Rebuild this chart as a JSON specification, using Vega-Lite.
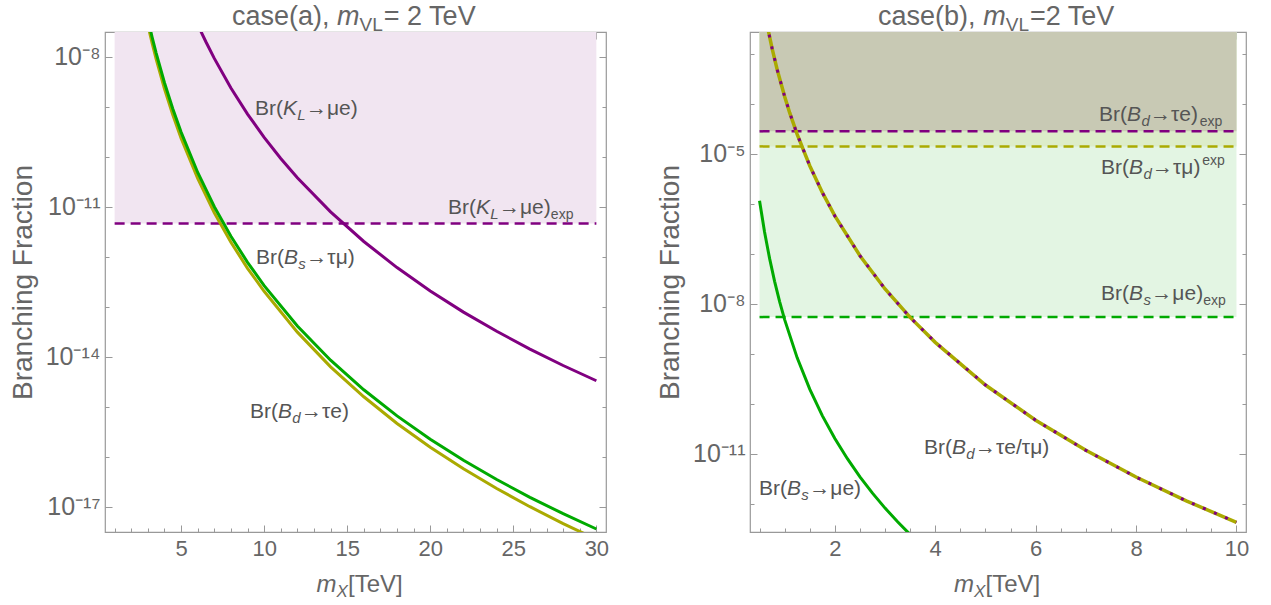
{
 "$schema": "https://vega.github.io/schema/vega-lite/v6.json",
 "padding": {"left": 8, "top": 2, "right": 5, "bottom": 5},
 "autosize": {"type": "pad"},
 "background": "white",
 "config": {"view": {"stroke": "#999", "strokeWidth": 1.2}, "font": "Liberation Sans"},
 "datasets": {
  "bandsA": [{"x1": 1, "x2": 30, "lo": 4.7e-12, "hi": 3.162e-8}],
  "rulesA": [{"x1": 1, "x2": 30, "v": 4.7e-12}],
  "curvesA": [
   {"s": "KL", "x": 6, "y": 4.508e-8}, {"s": "KL", "x": 6.25, "y": 2.979e-8}, {"s": "KL", "x": 6.5, "y": 1.995e-8}, {"s": "KL", "x": 7, "y": 9.376e-9}, {"s": "KL", "x": 8, "y": 2.399e-9}, {"s": "KL", "x": 9, "y": 7.228e-10}, {"s": "KL", "x": 10, "y": 2.466e-10}, {"s": "KL", "x": 11, "y": 9.333e-11}, {"s": "KL", "x": 12, "y": 3.837e-11}, {"s": "KL", "x": 14, "y": 7.98e-12}, {"s": "KL", "x": 16, "y": 2.042e-12}, {"s": "KL", "x": 18, "y": 6.138e-13}, {"s": "KL", "x": 20, "y": 2.099e-13}, {"s": "KL", "x": 22, "y": 7.907e-14}, {"s": "KL", "x": 24, "y": 3.266e-14}, {"s": "KL", "x": 26, "y": 1.442e-14}, {"s": "KL", "x": 28, "y": 6.761e-15}, {"s": "KL", "x": 30, "y": 3.35e-15},
   {"s": "Bs", "x": 3, "y": 5.754e-8}, {"s": "Bs", "x": 3.25, "y": 2.541e-8}, {"s": "Bs", "x": 3.5, "y": 1.197e-8}, {"s": "Bs", "x": 4, "y": 3.062e-9}, {"s": "Bs", "x": 4.5, "y": 9.2e-10}, {"s": "Bs", "x": 5, "y": 3.148e-10}, {"s": "Bs", "x": 6, "y": 4.898e-11}, {"s": "Bs", "x": 7, "y": 1.014e-11}, {"s": "Bs", "x": 8, "y": 2.6e-12}, {"s": "Bs", "x": 9, "y": 7.834e-13}, {"s": "Bs", "x": 10, "y": 2.673e-13}, {"s": "Bs", "x": 12, "y": 4.159e-14}, {"s": "Bs", "x": 14, "y": 8.63e-15}, {"s": "Bs", "x": 16, "y": 2.213e-15}, {"s": "Bs", "x": 18, "y": 6.637e-16}, {"s": "Bs", "x": 20, "y": 2.27e-16}, {"s": "Bs", "x": 22, "y": 8.59e-17}, {"s": "Bs", "x": 24, "y": 3.54e-17}, {"s": "Bs", "x": 26, "y": 1.563e-17}, {"s": "Bs", "x": 28, "y": 7.345e-18}, {"s": "Bs", "x": 30, "y": 3.631e-18},
   {"s": "Bd", "x": 3, "y": 4.365e-8}, {"s": "Bd", "x": 3.25, "y": 1.928e-8}, {"s": "Bd", "x": 3.5, "y": 9.08e-9}, {"s": "Bd", "x": 4, "y": 2.323e-9}, {"s": "Bd", "x": 4.5, "y": 6.98e-10}, {"s": "Bd", "x": 5, "y": 2.388e-10}, {"s": "Bd", "x": 6, "y": 3.716e-11}, {"s": "Bd", "x": 7, "y": 7.69e-12}, {"s": "Bd", "x": 8, "y": 1.972e-12}, {"s": "Bd", "x": 9, "y": 5.943e-13}, {"s": "Bd", "x": 10, "y": 2.061e-13}, {"s": "Bd", "x": 12, "y": 3.141e-14}, {"s": "Bd", "x": 14, "y": 6.368e-15}, {"s": "Bd", "x": 16, "y": 1.6e-15}, {"s": "Bd", "x": 18, "y": 4.688e-16}, {"s": "Bd", "x": 20, "y": 1.57e-16}, {"s": "Bd", "x": 22, "y": 5.821e-17}, {"s": "Bd", "x": 24, "y": 2.344e-17}, {"s": "Bd", "x": 26, "y": 1.014e-17}, {"s": "Bd", "x": 28, "y": 4.656e-18}, {"s": "Bd", "x": 30, "y": 2.254e-18}
  ],
  "textA": [
   {"x": 9.45, "y": 6.92e-10, "t": "Br(", "part": "lab"}, {"x": 11.136, "y": 6.92e-10, "t": "K", "part": "labI"}, {"x": 11.997, "y": 6.92e-10, "t": "L", "part": "labSubI"}, {"x": 12.52, "y": 6.92e-10, "t": "→μe)", "part": "lab"},
   {"x": 21.07, "y": 7.24e-12, "t": "Br(", "part": "lab"}, {"x": 22.756, "y": 7.24e-12, "t": "K", "part": "labI"}, {"x": 23.617, "y": 7.24e-12, "t": "L", "part": "labSubI"}, {"x": 24.14, "y": 7.24e-12, "t": "→μe)", "part": "lab"}, {"x": 27.26, "y": 7.24e-12, "t": "exp", "part": "labSub"},
   {"x": 9.51, "y": 7.24e-13, "t": "Br(", "part": "lab"}, {"x": 11.196, "y": 7.24e-13, "t": "B", "part": "labI"}, {"x": 12.057, "y": 7.24e-13, "t": "s", "part": "labSubI"}, {"x": 12.54, "y": 7.24e-13, "t": "→τμ)", "part": "lab"},
   {"x": 9.15, "y": 6.03e-16, "t": "Br(", "part": "lab"}, {"x": 10.836, "y": 6.03e-16, "t": "B", "part": "labI"}, {"x": 11.697, "y": 6.03e-16, "t": "d", "part": "labSubI"}, {"x": 12.22, "y": 6.03e-16, "t": "→τe)", "part": "lab"},
   {"x": 8.07, "y": 4.37e-8, "t": "case(a), ", "part": "tit"}, {"x": 14.39, "y": 4.37e-8, "t": "m", "part": "titI"}, {"x": 15.745, "y": 4.37e-8, "t": "VL", "part": "titSub"}, {"x": 17.205, "y": 4.37e-8, "t": "= 2 TeV", "part": "tit"},
   {"x": 13.154, "y": 2.0e-19, "t": "m", "part": "axI"}, {"x": 14.358, "y": 2.0e-19, "t": "X", "part": "axSubI"}, {"x": 15.05, "y": 2.0e-19, "t": "[TeV]", "part": "ax"}
  ],
  "bandsB": [
   {"s": "Bsmue", "x1": 0.5, "x2": 10, "lo": 5.4e-9, "hi": 2.716e-3},
   {"s": "Bdtaumu", "x1": 0.5, "x2": 10, "lo": 1.4e-5, "hi": 2.716e-3},
   {"s": "Bdtaue", "x1": 0.5, "x2": 10, "lo": 2.8e-5, "hi": 2.716e-3}
  ],
  "rulesB": [
   {"s": "Bsmue", "x1": 0.5, "x2": 10, "v": 5.4e-9},
   {"s": "Bdtaumu", "x1": 0.5, "x2": 10, "v": 1.4e-5},
   {"s": "Bdtaue", "x1": 0.5, "x2": 10, "v": 2.8e-5}
  ],
  "curvesB": [
   {"s": "Bsmue", "x": 0.5, "y": 1.148e-6}, {"s": "Bsmue", "x": 0.6, "y": 2.716e-7}, {"s": "Bsmue", "x": 0.7, "y": 8.054e-8}, {"s": "Bsmue", "x": 0.8, "y": 2.805e-8}, {"s": "Bsmue", "x": 0.9, "y": 1.104e-8}, {"s": "Bsmue", "x": 1.0, "y": 4.808e-9}, {"s": "Bsmue", "x": 1.25, "y": 8.26e-10}, {"s": "Bsmue", "x": 1.5, "y": 1.954e-10}, {"s": "Bsmue", "x": 1.75, "y": 5.781e-11}, {"s": "Bsmue", "x": 2.0, "y": 2.014e-11}, {"s": "Bsmue", "x": 2.25, "y": 7.943e-12}, {"s": "Bsmue", "x": 2.5, "y": 3.451e-12}, {"s": "Bsmue", "x": 2.75, "y": 1.626e-12}, {"s": "Bsmue", "x": 3.0, "y": 8.166e-13}, {"s": "Bsmue", "x": 3.25, "y": 4.345e-13}, {"s": "Bsmue", "x": 3.5, "y": 2.421e-13},
   {"s": "Bd", "x": 0.6, "y": 7.129e-3}, {"s": "Bd", "x": 0.68, "y": 2.716e-3}, {"s": "Bd", "x": 0.75, "y": 1.276e-3}, {"s": "Bd", "x": 0.85, "y": 4.864e-4}, {"s": "Bd", "x": 1.0, "y": 1.393e-4}, {"s": "Bd", "x": 1.1, "y": 6.62e-5}, {"s": "Bd", "x": 1.25, "y": 2.443e-5}, {"s": "Bd", "x": 1.5, "y": 5.754e-6}, {"s": "Bd", "x": 1.75, "y": 1.679e-6}, {"s": "Bd", "x": 2.0, "y": 5.689e-7}, {"s": "Bd", "x": 2.5, "y": 9.12e-8}, {"s": "Bd", "x": 3.0, "y": 1.972e-8}, {"s": "Bd", "x": 3.5, "y": 5.321e-9}, {"s": "Bd", "x": 4.0, "y": 1.687e-9}, {"s": "Bd", "x": 5.0, "y": 2.366e-10}, {"s": "Bd", "x": 6.0, "y": 4.667e-11}, {"s": "Bd", "x": 7.0, "y": 1.167e-11}, {"s": "Bd", "x": 8.0, "y": 3.412e-12}, {"s": "Bd", "x": 9.0, "y": 1.14e-12}, {"s": "Bd", "x": 10.0, "y": 4.236e-13}
  ],
  "textB": [
   {"x": 7.263, "y": 4.51e-5, "t": "Br(", "part": "lab"}, {"x": 7.821, "y": 4.51e-5, "t": "B", "part": "labI"}, {"x": 8.106, "y": 4.51e-5, "t": "d", "part": "labSubI"}, {"x": 8.279, "y": 4.51e-5, "t": "→τe)", "part": "lab"}, {"x": 9.269, "y": 4.51e-5, "t": "exp", "part": "labSub"},
   {"x": 7.303, "y": 3.93e-6, "t": "Br(", "part": "lab"}, {"x": 7.861, "y": 3.93e-6, "t": "B", "part": "labI"}, {"x": 8.146, "y": 3.93e-6, "t": "d", "part": "labSubI"}, {"x": 8.319, "y": 3.93e-6, "t": "→τμ)", "part": "lab"}, {"x": 9.317, "y": 3.93e-6, "t": "exp", "part": "labSup"},
   {"x": 7.303, "y": 1.186e-8, "t": "Br(", "part": "lab"}, {"x": 7.861, "y": 1.186e-8, "t": "B", "part": "labI"}, {"x": 8.146, "y": 1.186e-8, "t": "s", "part": "labSubI"}, {"x": 8.305, "y": 1.186e-8, "t": "→μe)", "part": "lab"}, {"x": 9.337, "y": 1.186e-8, "t": "exp", "part": "labSub"},
   {"x": 3.777, "y": 9.86e-12, "t": "Br(", "part": "lab"}, {"x": 4.335, "y": 9.86e-12, "t": "B", "part": "labI"}, {"x": 4.62, "y": 9.86e-12, "t": "d", "part": "labSubI"}, {"x": 4.793, "y": 9.86e-12, "t": "→τe/τμ)", "part": "lab"},
   {"x": 0.49, "y": 1.493e-12, "t": "Br(", "part": "lab"}, {"x": 1.048, "y": 1.493e-12, "t": "B", "part": "labI"}, {"x": 1.333, "y": 1.493e-12, "t": "s", "part": "labSubI"}, {"x": 1.492, "y": 1.493e-12, "t": "→μe)", "part": "lab"},
   {"x": 2.86, "y": 3.75e-3, "t": "case(b), ", "part": "tit"}, {"x": 4.956, "y": 3.75e-3, "t": "m", "part": "titI"}, {"x": 5.404, "y": 3.75e-3, "t": "VL", "part": "titSub"}, {"x": 5.888, "y": 3.75e-3, "t": "=2 TeV", "part": "tit"},
   {"x": 4.375, "y": 1.714e-14, "t": "m", "part": "axI"}, {"x": 4.773, "y": 1.714e-14, "t": "X", "part": "axSubI"}, {"x": 5.003, "y": 1.714e-14, "t": "[TeV]", "part": "ax"}
  ]
 },
 "spacing": 45,
 "hconcat": [
  {
   "width": 501, "height": 500,
   "resolve": {"axis": {"x": "independent", "y": "independent"}},
   "layer": [
    {"data": {"name": "bandsA"}, "mark": {"type": "rect", "color": "#f1e5f1"},
     "encoding": {
      "x": {"field": "x1", "type": "quantitative", "scale": {"domain": [0.42, 30.58], "nice": false, "zero": false},
            "axis": {"orient": "bottom", "values": [1,2,3,4,5,6,7,8,9,10,11,12,13,14,15,16,17,18,19,20,21,22,23,24,25,26,27,28,29,30], "labelExpr": "datum.value % 5 === 0 ? format(datum.value, 'd') : ''", "tickSize": {"condition": {"test": "datum.value % 5 === 0", "value": -7}, "value": -4}, "tickColor": "#999", "labelPadding": 13, "labelFontSize": 22, "labelColor": "#666", "labelFont": "Liberation Sans", "labelFlush": false, "labelOverlap": false, "grid": false, "domain": false, "title": null}},
      "x2": {"field": "x2"},
      "y": {"field": "lo", "type": "quantitative", "scale": {"type": "log", "domain": [3.162e-18, 3.162e-8], "nice": false},
            "axis": {"orient": "left", "values": [1e-17,1e-16,1e-15,1e-14,1e-13,1e-12,1e-11,1e-10,1e-9,1e-8], "labelExpr": "datum.value == 1e-8 ? '10⁻⁸' : datum.value == 1e-11 ? '10⁻¹¹' : datum.value == 1e-14 ? '10⁻¹⁴' : datum.value == 1e-17 ? '10⁻¹⁷' : ''", "tickSize": {"condition": {"test": "abs(round(log(datum.value)/LN10)) % 3 === 2", "value": -7}, "value": -4}, "tickColor": "#999", "labelPadding": 12, "labelFontSize": 25, "labelColor": "#666", "labelFont": "Liberation Sans", "labelOverlap": false, "labelFlush": false, "grid": false, "domain": false, "title": "Branching Fraction", "titleFontSize": 28, "titleFont": "Liberation Sans", "titleFontWeight": "normal", "titleColor": "#666", "titlePadding": 8}},
      "y2": {"field": "hi"}
     }},
    {"data": {"name": "rulesA"}, "mark": {"type": "rule", "color": "#800080", "strokeWidth": 2.5, "strokeDash": [10, 6]},
     "encoding": {
      "x": {"field": "x1", "type": "quantitative", "scale": {"domain": [0.42, 30.58], "nice": false, "zero": false},
            "axis": {"orient": "top", "values": [1,2,3,4,5,6,7,8,9,10,11,12,13,14,15,16,17,18,19,20,21,22,23,24,25,26,27,28,29,30], "labels": false, "tickSize": {"condition": {"test": "datum.value % 5 === 0", "value": -7}, "value": -4}, "tickColor": "#999", "grid": false, "domain": false, "title": null}},
      "x2": {"field": "x2"},
      "y": {"field": "v", "type": "quantitative", "scale": {"type": "log", "domain": [3.162e-18, 3.162e-8], "nice": false},
            "axis": {"orient": "right", "values": [1e-17,1e-16,1e-15,1e-14,1e-13,1e-12,1e-11,1e-10,1e-9,1e-8], "labels": false, "tickSize": {"condition": {"test": "abs(round(log(datum.value)/LN10)) % 3 === 2", "value": -7}, "value": -4}, "tickColor": "#999", "grid": false, "domain": false, "title": null}}
     }},
    {"data": {"name": "curvesA"}, "transform": [{"filter": "datum.s === 'KL'"}], "mark": {"type": "line", "color": "#800080", "strokeWidth": 3, "clip": true},
     "encoding": {"x": {"field": "x", "type": "quantitative", "scale": {"domain": [0.42, 30.58], "nice": false, "zero": false}, "axis": null}, "y": {"field": "y", "type": "quantitative", "scale": {"type": "log", "domain": [3.162e-18, 3.162e-8], "nice": false}, "axis": null}}},
    {"data": {"name": "curvesA"}, "transform": [{"filter": "datum.s === 'Bd'"}], "mark": {"type": "line", "color": "#aaaa00", "strokeWidth": 3, "clip": true},
     "encoding": {"x": {"field": "x", "type": "quantitative", "scale": {"domain": [0.42, 30.58], "nice": false, "zero": false}, "axis": null}, "y": {"field": "y", "type": "quantitative", "scale": {"type": "log", "domain": [3.162e-18, 3.162e-8], "nice": false}, "axis": null}}},
    {"data": {"name": "curvesA"}, "transform": [{"filter": "datum.s === 'Bs'"}], "mark": {"type": "line", "color": "#00aa00", "strokeWidth": 3, "clip": true},
     "encoding": {"x": {"field": "x", "type": "quantitative", "scale": {"domain": [0.42, 30.58], "nice": false, "zero": false}, "axis": null}, "y": {"field": "y", "type": "quantitative", "scale": {"type": "log", "domain": [3.162e-18, 3.162e-8], "nice": false}, "axis": null}}},
    {"data": {"name": "textA"}, "transform": [{"filter": "datum.part === 'lab'"}], "mark": {"type": "text", "align": "left", "baseline": "alphabetic", "font": "Liberation Sans", "fontSize": 21, "color": "#555"},
     "encoding": {"x": {"field": "x", "type": "quantitative", "scale": {"domain": [0.42, 30.58], "nice": false, "zero": false}, "axis": null}, "y": {"field": "y", "type": "quantitative", "scale": {"type": "log", "domain": [3.162e-18, 3.162e-8], "nice": false}, "axis": null}, "text": {"field": "t"}}},
    {"data": {"name": "textA"}, "transform": [{"filter": "datum.part === 'labI'"}], "mark": {"type": "text", "align": "left", "baseline": "alphabetic", "font": "Liberation Sans", "fontSize": 21, "fontStyle": "italic", "color": "#555"},
     "encoding": {"x": {"field": "x", "type": "quantitative", "scale": {"domain": [0.42, 30.58], "nice": false, "zero": false}, "axis": null}, "y": {"field": "y", "type": "quantitative", "scale": {"type": "log", "domain": [3.162e-18, 3.162e-8], "nice": false}, "axis": null}, "text": {"field": "t"}}},
    {"data": {"name": "textA"}, "transform": [{"filter": "datum.part === 'labSubI'"}], "mark": {"type": "text", "align": "left", "baseline": "alphabetic", "font": "Liberation Sans", "fontSize": 15, "fontStyle": "italic", "dy": 5, "color": "#555"},
     "encoding": {"x": {"field": "x", "type": "quantitative", "scale": {"domain": [0.42, 30.58], "nice": false, "zero": false}, "axis": null}, "y": {"field": "y", "type": "quantitative", "scale": {"type": "log", "domain": [3.162e-18, 3.162e-8], "nice": false}, "axis": null}, "text": {"field": "t"}}},
    {"data": {"name": "textA"}, "transform": [{"filter": "datum.part === 'labSub'"}], "mark": {"type": "text", "align": "left", "baseline": "alphabetic", "font": "Liberation Sans", "fontSize": 14, "dy": 5, "color": "#555"},
     "encoding": {"x": {"field": "x", "type": "quantitative", "scale": {"domain": [0.42, 30.58], "nice": false, "zero": false}, "axis": null}, "y": {"field": "y", "type": "quantitative", "scale": {"type": "log", "domain": [3.162e-18, 3.162e-8], "nice": false}, "axis": null}, "text": {"field": "t"}}},
    {"data": {"name": "textA"}, "transform": [{"filter": "datum.part === 'tit'"}], "mark": {"type": "text", "align": "left", "baseline": "alphabetic", "font": "Liberation Sans", "fontSize": 27, "color": "#666"},
     "encoding": {"x": {"field": "x", "type": "quantitative", "scale": {"domain": [0.42, 30.58], "nice": false, "zero": false}, "axis": null}, "y": {"field": "y", "type": "quantitative", "scale": {"type": "log", "domain": [3.162e-18, 3.162e-8], "nice": false}, "axis": null}, "text": {"field": "t"}}},
    {"data": {"name": "textA"}, "transform": [{"filter": "datum.part === 'titI'"}], "mark": {"type": "text", "align": "left", "baseline": "alphabetic", "font": "Liberation Sans", "fontSize": 27, "fontStyle": "italic", "color": "#666"},
     "encoding": {"x": {"field": "x", "type": "quantitative", "scale": {"domain": [0.42, 30.58], "nice": false, "zero": false}, "axis": null}, "y": {"field": "y", "type": "quantitative", "scale": {"type": "log", "domain": [3.162e-18, 3.162e-8], "nice": false}, "axis": null}, "text": {"field": "t"}}},
    {"data": {"name": "textA"}, "transform": [{"filter": "datum.part === 'titSub'"}], "mark": {"type": "text", "align": "left", "baseline": "alphabetic", "font": "Liberation Sans", "fontSize": 19, "dy": 6, "color": "#666"},
     "encoding": {"x": {"field": "x", "type": "quantitative", "scale": {"domain": [0.42, 30.58], "nice": false, "zero": false}, "axis": null}, "y": {"field": "y", "type": "quantitative", "scale": {"type": "log", "domain": [3.162e-18, 3.162e-8], "nice": false}, "axis": null}, "text": {"field": "t"}}},
    {"data": {"name": "textA"}, "transform": [{"filter": "datum.part === 'ax'"}], "mark": {"type": "text", "align": "left", "baseline": "alphabetic", "font": "Liberation Sans", "fontSize": 24, "color": "#666"},
     "encoding": {"x": {"field": "x", "type": "quantitative", "scale": {"domain": [0.42, 30.58], "nice": false, "zero": false}, "axis": null}, "y": {"field": "y", "type": "quantitative", "scale": {"type": "log", "domain": [3.162e-18, 3.162e-8], "nice": false}, "axis": null}, "text": {"field": "t"}}},
    {"data": {"name": "textA"}, "transform": [{"filter": "datum.part === 'axI'"}], "mark": {"type": "text", "align": "left", "baseline": "alphabetic", "font": "Liberation Sans", "fontSize": 24, "fontStyle": "italic", "color": "#666"},
     "encoding": {"x": {"field": "x", "type": "quantitative", "scale": {"domain": [0.42, 30.58], "nice": false, "zero": false}, "axis": null}, "y": {"field": "y", "type": "quantitative", "scale": {"type": "log", "domain": [3.162e-18, 3.162e-8], "nice": false}, "axis": null}, "text": {"field": "t"}}},
    {"data": {"name": "textA"}, "transform": [{"filter": "datum.part === 'axSubI'"}], "mark": {"type": "text", "align": "left", "baseline": "alphabetic", "font": "Liberation Sans", "fontSize": 17, "fontStyle": "italic", "dy": 5, "color": "#666"},
     "encoding": {"x": {"field": "x", "type": "quantitative", "scale": {"domain": [0.42, 30.58], "nice": false, "zero": false}, "axis": null}, "y": {"field": "y", "type": "quantitative", "scale": {"type": "log", "domain": [3.162e-18, 3.162e-8], "nice": false}, "axis": null}, "text": {"field": "t"}}}
   ]
  },
  {
   "width": 496, "height": 500,
   "resolve": {"axis": {"x": "independent", "y": "independent"}},
   "layer": [
    {"data": {"name": "bandsB"}, "transform": [{"filter": "datum.s === 'Bsmue'"}], "mark": {"type": "rect", "color": "#e3f5e3"},
     "encoding": {
      "x": {"field": "x1", "type": "quantitative", "scale": {"domain": [0.31, 10.19], "nice": false, "zero": false},
            "axis": {"orient": "bottom", "values": [0.5,1,1.5,2,2.5,3,3.5,4,4.5,5,5.5,6,6.5,7,7.5,8,8.5,9,9.5,10], "labelExpr": "datum.value % 2 === 0 ? format(datum.value, 'd') : ''", "tickSize": {"condition": {"test": "datum.value % 2 === 0", "value": -7}, "value": -4}, "tickColor": "#999", "labelPadding": 13, "labelFontSize": 22, "labelColor": "#666", "labelFont": "Liberation Sans", "labelFlush": false, "labelOverlap": false, "grid": false, "domain": false, "title": null}},
      "x2": {"field": "x2"},
      "y": {"field": "lo", "type": "quantitative", "scale": {"type": "log", "domain": [2.716e-13, 2.716e-3], "nice": false},
            "axis": {"orient": "left", "values": [1e-12,1e-11,1e-10,1e-9,1e-8,1e-7,1e-6,1e-5,1e-4,1e-3], "labelExpr": "datum.value == 1e-5 ? '10⁻⁵' : datum.value == 1e-8 ? '10⁻⁸' : datum.value == 1e-11 ? '10⁻¹¹' : ''", "tickSize": {"condition": {"test": "abs(round(log(datum.value)/LN10)) % 3 === 2", "value": -7}, "value": -4}, "tickColor": "#999", "labelPadding": 12, "labelFontSize": 25, "labelColor": "#666", "labelFont": "Liberation Sans", "labelOverlap": false, "labelFlush": false, "grid": false, "domain": false, "title": "Branching Fraction", "titleFontSize": 28, "titleFont": "Liberation Sans", "titleFontWeight": "normal", "titleColor": "#666", "titlePadding": 8}},
      "y2": {"field": "hi"}
     }},
    {"data": {"name": "bandsB"}, "transform": [{"filter": "datum.s === 'Bdtaumu'"}], "mark": {"type": "rect", "color": "#dcecc9"},
     "encoding": {"x": {"field": "x1", "type": "quantitative", "scale": {"domain": [0.31, 10.19], "nice": false, "zero": false}, "axis": null}, "x2": {"field": "x2"}, "y": {"field": "lo", "type": "quantitative", "scale": {"type": "log", "domain": [2.716e-13, 2.716e-3], "nice": false}, "axis": null}, "y2": {"field": "hi"}}},
    {"data": {"name": "bandsB"}, "transform": [{"filter": "datum.s === 'Bdtaue'"}], "mark": {"type": "rect", "color": "#c8c9b4"},
     "encoding": {"x": {"field": "x1", "type": "quantitative", "scale": {"domain": [0.31, 10.19], "nice": false, "zero": false}, "axis": null}, "x2": {"field": "x2"}, "y": {"field": "lo", "type": "quantitative", "scale": {"type": "log", "domain": [2.716e-13, 2.716e-3], "nice": false}, "axis": null}, "y2": {"field": "hi"}}},
    {"data": {"name": "rulesB"}, "transform": [{"filter": "datum.s === 'Bsmue'"}], "mark": {"type": "rule", "color": "#00aa00", "strokeWidth": 2.5, "strokeDash": [10, 6]},
     "encoding": {
      "x": {"field": "x1", "type": "quantitative", "scale": {"domain": [0.31, 10.19], "nice": false, "zero": false},
            "axis": {"orient": "top", "values": [0.5,1,1.5,2,2.5,3,3.5,4,4.5,5,5.5,6,6.5,7,7.5,8,8.5,9,9.5,10], "labels": false, "tickSize": {"condition": {"test": "datum.value % 2 === 0", "value": -7}, "value": -4}, "tickColor": "#999", "grid": false, "domain": false, "title": null}},
      "x2": {"field": "x2"},
      "y": {"field": "v", "type": "quantitative", "scale": {"type": "log", "domain": [2.716e-13, 2.716e-3], "nice": false},
            "axis": {"orient": "right", "values": [1e-12,1e-11,1e-10,1e-9,1e-8,1e-7,1e-6,1e-5,1e-4,1e-3], "labels": false, "tickSize": {"condition": {"test": "abs(round(log(datum.value)/LN10)) % 3 === 2", "value": -7}, "value": -4}, "tickColor": "#999", "grid": false, "domain": false, "title": null}}
     }},
    {"data": {"name": "rulesB"}, "transform": [{"filter": "datum.s === 'Bdtaumu'"}], "mark": {"type": "rule", "color": "#aaaa00", "strokeWidth": 2.5, "strokeDash": [10, 6]},
     "encoding": {"x": {"field": "x1", "type": "quantitative", "scale": {"domain": [0.31, 10.19], "nice": false, "zero": false}, "axis": null}, "x2": {"field": "x2"}, "y": {"field": "v", "type": "quantitative", "scale": {"type": "log", "domain": [2.716e-13, 2.716e-3], "nice": false}, "axis": null}}},
    {"data": {"name": "rulesB"}, "transform": [{"filter": "datum.s === 'Bdtaue'"}], "mark": {"type": "rule", "color": "#800080", "strokeWidth": 2.5, "strokeDash": [10, 6]},
     "encoding": {"x": {"field": "x1", "type": "quantitative", "scale": {"domain": [0.31, 10.19], "nice": false, "zero": false}, "axis": null}, "x2": {"field": "x2"}, "y": {"field": "v", "type": "quantitative", "scale": {"type": "log", "domain": [2.716e-13, 2.716e-3], "nice": false}, "axis": null}}},
    {"data": {"name": "curvesB"}, "transform": [{"filter": "datum.s === 'Bsmue'"}], "mark": {"type": "line", "color": "#00aa00", "strokeWidth": 3, "clip": true},
     "encoding": {"x": {"field": "x", "type": "quantitative", "scale": {"domain": [0.31, 10.19], "nice": false, "zero": false}, "axis": null}, "y": {"field": "y", "type": "quantitative", "scale": {"type": "log", "domain": [2.716e-13, 2.716e-3], "nice": false}, "axis": null}}},
    {"data": {"name": "curvesB"}, "transform": [{"filter": "datum.s === 'Bd'"}], "mark": {"type": "line", "color": "#aaaa00", "strokeWidth": 3.5, "clip": true},
     "encoding": {"x": {"field": "x", "type": "quantitative", "scale": {"domain": [0.31, 10.19], "nice": false, "zero": false}, "axis": null}, "y": {"field": "y", "type": "quantitative", "scale": {"type": "log", "domain": [2.716e-13, 2.716e-3], "nice": false}, "axis": null}}},
    {"data": {"name": "curvesB"}, "transform": [{"filter": "datum.s === 'Bd'"}], "mark": {"type": "line", "color": "#800080", "strokeWidth": 3, "strokeDash": [3, 9], "clip": true},
     "encoding": {"x": {"field": "x", "type": "quantitative", "scale": {"domain": [0.31, 10.19], "nice": false, "zero": false}, "axis": null}, "y": {"field": "y", "type": "quantitative", "scale": {"type": "log", "domain": [2.716e-13, 2.716e-3], "nice": false}, "axis": null}}},
    {"data": {"name": "textB"}, "transform": [{"filter": "datum.part === 'lab'"}], "mark": {"type": "text", "align": "left", "baseline": "alphabetic", "font": "Liberation Sans", "fontSize": 21, "color": "#555"},
     "encoding": {"x": {"field": "x", "type": "quantitative", "scale": {"domain": [0.31, 10.19], "nice": false, "zero": false}, "axis": null}, "y": {"field": "y", "type": "quantitative", "scale": {"type": "log", "domain": [2.716e-13, 2.716e-3], "nice": false}, "axis": null}, "text": {"field": "t"}}},
    {"data": {"name": "textB"}, "transform": [{"filter": "datum.part === 'labI'"}], "mark": {"type": "text", "align": "left", "baseline": "alphabetic", "font": "Liberation Sans", "fontSize": 21, "fontStyle": "italic", "color": "#555"},
     "encoding": {"x": {"field": "x", "type": "quantitative", "scale": {"domain": [0.31, 10.19], "nice": false, "zero": false}, "axis": null}, "y": {"field": "y", "type": "quantitative", "scale": {"type": "log", "domain": [2.716e-13, 2.716e-3], "nice": false}, "axis": null}, "text": {"field": "t"}}},
    {"data": {"name": "textB"}, "transform": [{"filter": "datum.part === 'labSubI'"}], "mark": {"type": "text", "align": "left", "baseline": "alphabetic", "font": "Liberation Sans", "fontSize": 15, "fontStyle": "italic", "dy": 5, "color": "#555"},
     "encoding": {"x": {"field": "x", "type": "quantitative", "scale": {"domain": [0.31, 10.19], "nice": false, "zero": false}, "axis": null}, "y": {"field": "y", "type": "quantitative", "scale": {"type": "log", "domain": [2.716e-13, 2.716e-3], "nice": false}, "axis": null}, "text": {"field": "t"}}},
    {"data": {"name": "textB"}, "transform": [{"filter": "datum.part === 'labSub'"}], "mark": {"type": "text", "align": "left", "baseline": "alphabetic", "font": "Liberation Sans", "fontSize": 14, "dy": 5, "color": "#555"},
     "encoding": {"x": {"field": "x", "type": "quantitative", "scale": {"domain": [0.31, 10.19], "nice": false, "zero": false}, "axis": null}, "y": {"field": "y", "type": "quantitative", "scale": {"type": "log", "domain": [2.716e-13, 2.716e-3], "nice": false}, "axis": null}, "text": {"field": "t"}}},
    {"data": {"name": "textB"}, "transform": [{"filter": "datum.part === 'labSup'"}], "mark": {"type": "text", "align": "left", "baseline": "alphabetic", "font": "Liberation Sans", "fontSize": 14, "dy": -9, "color": "#555"},
     "encoding": {"x": {"field": "x", "type": "quantitative", "scale": {"domain": [0.31, 10.19], "nice": false, "zero": false}, "axis": null}, "y": {"field": "y", "type": "quantitative", "scale": {"type": "log", "domain": [2.716e-13, 2.716e-3], "nice": false}, "axis": null}, "text": {"field": "t"}}},
    {"data": {"name": "textB"}, "transform": [{"filter": "datum.part === 'tit'"}], "mark": {"type": "text", "align": "left", "baseline": "alphabetic", "font": "Liberation Sans", "fontSize": 27, "color": "#666"},
     "encoding": {"x": {"field": "x", "type": "quantitative", "scale": {"domain": [0.31, 10.19], "nice": false, "zero": false}, "axis": null}, "y": {"field": "y", "type": "quantitative", "scale": {"type": "log", "domain": [2.716e-13, 2.716e-3], "nice": false}, "axis": null}, "text": {"field": "t"}}},
    {"data": {"name": "textB"}, "transform": [{"filter": "datum.part === 'titI'"}], "mark": {"type": "text", "align": "left", "baseline": "alphabetic", "font": "Liberation Sans", "fontSize": 27, "fontStyle": "italic", "color": "#666"},
     "encoding": {"x": {"field": "x", "type": "quantitative", "scale": {"domain": [0.31, 10.19], "nice": false, "zero": false}, "axis": null}, "y": {"field": "y", "type": "quantitative", "scale": {"type": "log", "domain": [2.716e-13, 2.716e-3], "nice": false}, "axis": null}, "text": {"field": "t"}}},
    {"data": {"name": "textB"}, "transform": [{"filter": "datum.part === 'titSub'"}], "mark": {"type": "text", "align": "left", "baseline": "alphabetic", "font": "Liberation Sans", "fontSize": 19, "dy": 6, "color": "#666"},
     "encoding": {"x": {"field": "x", "type": "quantitative", "scale": {"domain": [0.31, 10.19], "nice": false, "zero": false}, "axis": null}, "y": {"field": "y", "type": "quantitative", "scale": {"type": "log", "domain": [2.716e-13, 2.716e-3], "nice": false}, "axis": null}, "text": {"field": "t"}}},
    {"data": {"name": "textB"}, "transform": [{"filter": "datum.part === 'ax'"}], "mark": {"type": "text", "align": "left", "baseline": "alphabetic", "font": "Liberation Sans", "fontSize": 24, "color": "#666"},
     "encoding": {"x": {"field": "x", "type": "quantitative", "scale": {"domain": [0.31, 10.19], "nice": false, "zero": false}, "axis": null}, "y": {"field": "y", "type": "quantitative", "scale": {"type": "log", "domain": [2.716e-13, 2.716e-3], "nice": false}, "axis": null}, "text": {"field": "t"}}},
    {"data": {"name": "textB"}, "transform": [{"filter": "datum.part === 'axI'"}], "mark": {"type": "text", "align": "left", "baseline": "alphabetic", "font": "Liberation Sans", "fontSize": 24, "fontStyle": "italic", "color": "#666"},
     "encoding": {"x": {"field": "x", "type": "quantitative", "scale": {"domain": [0.31, 10.19], "nice": false, "zero": false}, "axis": null}, "y": {"field": "y", "type": "quantitative", "scale": {"type": "log", "domain": [2.716e-13, 2.716e-3], "nice": false}, "axis": null}, "text": {"field": "t"}}},
    {"data": {"name": "textB"}, "transform": [{"filter": "datum.part === 'axSubI'"}], "mark": {"type": "text", "align": "left", "baseline": "alphabetic", "font": "Liberation Sans", "fontSize": 17, "fontStyle": "italic", "dy": 5, "color": "#666"},
     "encoding": {"x": {"field": "x", "type": "quantitative", "scale": {"domain": [0.31, 10.19], "nice": false, "zero": false}, "axis": null}, "y": {"field": "y", "type": "quantitative", "scale": {"type": "log", "domain": [2.716e-13, 2.716e-3], "nice": false}, "axis": null}, "text": {"field": "t"}}}
   ]
  }
 ]
}
